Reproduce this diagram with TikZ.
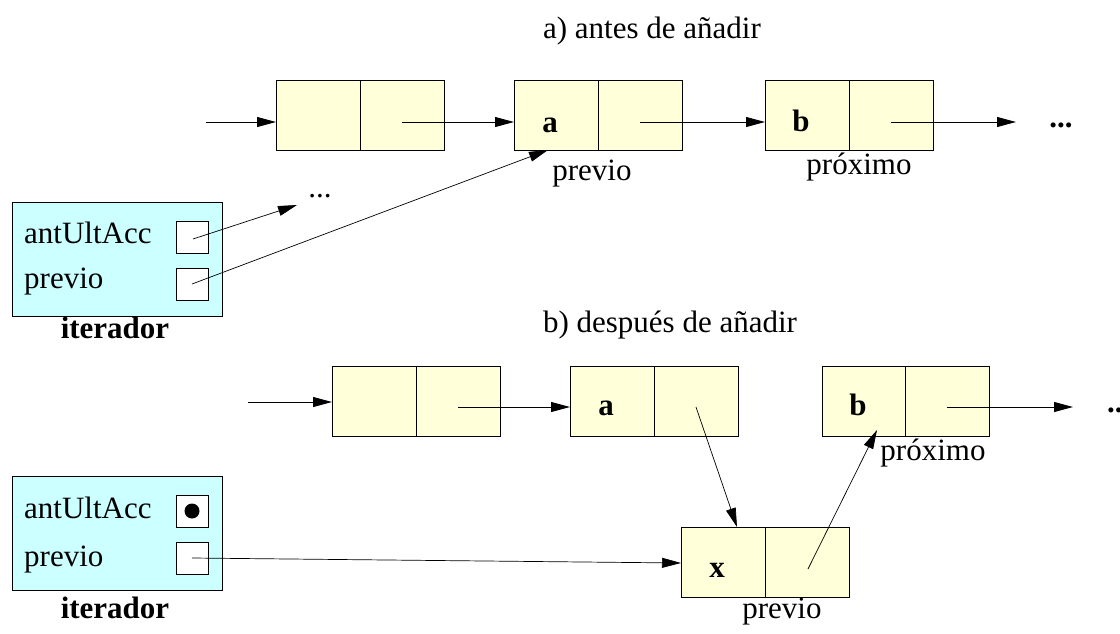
\documentclass[tikz,border=0pt]{standalone}
\usepackage{fontspec}
\setmainfont{Liberation Serif}
\usetikzlibrary{arrows.meta}
\definecolor{cellyellow}{HTML}{FFFFD9}
\definecolor{itercyan}{HTML}{CCFFFF}
\begin{document}
\begin{tikzpicture}[x=1pt,y=-1pt,
 cell/.style={draw,fill=cellyellow,line width=0.9pt,minimum width=84pt,minimum height=70pt,inner sep=0pt,outer sep=0pt,anchor=north west},
 iterbox/.style={draw,fill=itercyan,line width=0.9pt,minimum width=210pt,minimum height=114pt,inner sep=0pt,outer sep=0pt,anchor=north west},
 slot/.style={draw,fill=white,line width=0.9pt,minimum width=32pt,minimum height=32pt,inner sep=0pt,outer sep=0pt,anchor=north west},
 lbl/.style={inner sep=0pt,font=\fontsize{31}{36}\selectfont},
 ptr/.style={line width=0.9pt,-{Triangle[length=19pt,width=10pt]}},
 thinptr/.style={line width=0.7pt,-{Triangle[length=19pt,width=10pt]}}]
\useasboundingbox (0,0) rectangle (1120,633);

% ---------- a) antes de añadir ----------
\node[lbl,anchor=base] (ta) at (652,38) {a) antes de añadir};

\node[cell] (c1l) at (276,80) {};
\node[cell] (c1r) at (360,80) {};
\node[cell] (al) at (514,80) {};
\node[cell] (ar) at (598,80) {};
\node[cell] (bl) at (765,80) {};
\node[cell] (br) at (849,80) {};

\node[lbl,anchor=base,font=\fontsize{31}{36}\selectfont\bfseries] (la) at (550,132) {a};
\node[lbl,anchor=base,font=\fontsize{31}{36}\selectfont\bfseries] (lb) at (801,131) {b};
\node[lbl,anchor=base] (prev1) at (592,180) {previo};
\node[lbl,anchor=base] (prox1) at (859,174) {próximo};
\node[lbl,anchor=base,font=\fontsize{31}{36}\selectfont\bfseries] (dots1) at (1061,127) {...};

\coordinate (in1) at (206,122);
\coordinate (p1) at (402,122);
\coordinate (p2) at (640,122);
\coordinate (p3) at (891,122);
\coordinate (e1) at (1016,122);
\draw[ptr] (in1) -- (c1l.west |- in1);
\draw[ptr] (p1) -- (al.west |- p1);
\draw[ptr] (p2) -- (bl.west |- p2);
\draw[ptr] (p3) -- (e1);

% iterador (a)
\node[iterbox] (it1) at (12,202) {};
\node[slot] (s1) at (176,221) {};
\node[slot] (s2) at (176,268) {};
\node[lbl,anchor=base west] (t1) at (24,243) {antUltAcc};
\node[lbl,anchor=base west] (t2) at (24,288) {previo};
\node[lbl,anchor=base,font=\fontsize{31}{36}\selectfont\bfseries] (itl1) at (115,338) {iterador};
\node[lbl,anchor=base] (dots2) at (320,197) {...};
\coordinate (q1) at (297,205);
\coordinate (q2) at (548,150);
\draw[thinptr] ([xshift=1pt,yshift=-2pt]s1.center) -- (q1);
\draw[thinptr] (s2.center) -- (q2);

% ---------- b) después de añadir ----------
\node[lbl,anchor=base] (tb) at (670,332) {b) después de añadir};

\node[cell] (d1l) at (332,366) {};
\node[cell] (d1r) at (416,366) {};
\node[cell] (dal) at (570,366) {};
\node[cell] (dar) at (654,366) {};
\node[cell] (dbl) at (822,366) {};
\node[cell] (dbr) at (905,366) {};
\node[cell] (xl) at (681,527) {};
\node[cell] (xr) at (765,527) {};

\node[lbl,anchor=base,font=\fontsize{31}{36}\selectfont\bfseries] (la2) at (606,415) {a};
\node[lbl,anchor=base,font=\fontsize{31}{36}\selectfont\bfseries] (lb2) at (858,415) {b};
\node[lbl,anchor=base,font=\fontsize{31}{36}\selectfont\bfseries] (lx) at (717,577) {x};
\node[lbl,anchor=base] (prox2) at (933,460) {próximo};
\node[lbl,anchor=base] (prev2) at (782,618) {previo};
\node[lbl,anchor=base west,font=\fontsize{31}{36}\selectfont\bfseries] (dots3) at (1107,412) {...};

\coordinate (in2) at (248,402);
\coordinate (r1) at (458,407);
\coordinate (r2) at (696,407);
\coordinate (r3) at (947,407);
\coordinate (e2) at (1073,407);
\coordinate (r4) at (808,569);
\coordinate (r5) at (877,430);
\coordinate (xtop) at (737,527);
\draw[ptr] (in2) -- (d1l.west |- in2);
\draw[ptr] (r1) -- (dal.west |- r1);
\draw[thinptr] (r2) -- (xtop);
\draw[thinptr] (r4) -- (r5);
\draw[ptr] (r3) -- (e2);

% iterador (b)
\node[iterbox] (it2) at (12,476) {};
\node[slot] (s3) at (176,495) {};
\node[slot] (s4) at (176,542) {};
\fill (s3.center) circle (7.5pt);
\node[lbl,anchor=base west] (t3) at (24,518) {antUltAcc};
\node[lbl,anchor=base west] (t4) at (24,566) {previo};
\node[lbl,anchor=base,font=\fontsize{31}{36}\selectfont\bfseries] (itl2) at (115,618) {iterador};
\coordinate (q3) at (681,563);
\draw[thinptr] (s4.center) -- (q3);
\end{tikzpicture}
\end{document}
